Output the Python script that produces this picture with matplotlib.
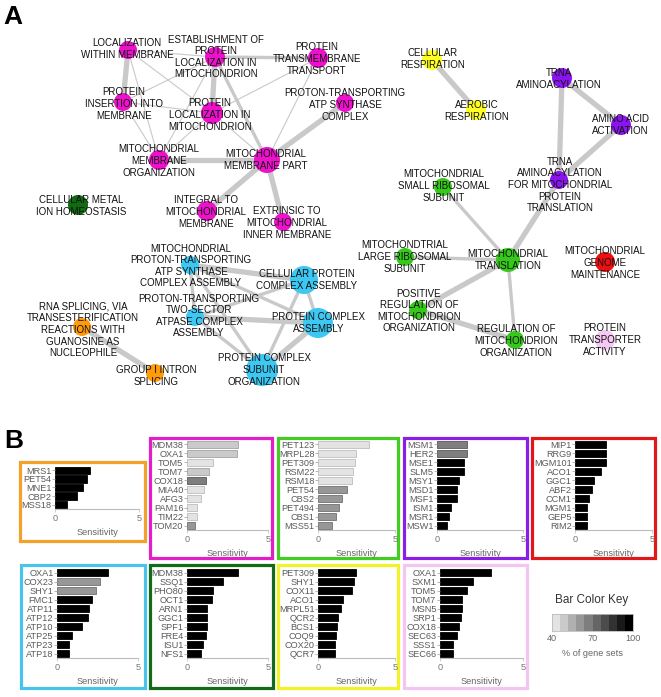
import matplotlib
matplotlib.use("Agg")
import matplotlib.pyplot as plt
from matplotlib.patches import Rectangle
import numpy as np

plt.rcParams["font.family"] = ["Liberation Sans", "DejaVu Sans"]

W, H = 661, 697

# ---------------- panel A: enrichment map ----------------
node_labels = {
    "loc_memb": "LOCALIZATION\nWITHIN MEMBRANE",
    "estab": "ESTABLISHMENT OF\nPROTEIN\nLOCALIZATION IN\nMITOCHONDRION",
    "tm_transport": "PROTEIN\nTRANSMEMBRANE\nTRANSPORT",
    "insertion": "PROTEIN\nINSERTION INTO\nMEMBRANE",
    "prot_loc": "PROTEIN\nLOCALIZATION IN\nMITOCHONDRION",
    "atp_complex": "PROTON-TRANSPORTING\nATP SYNTHASE\nCOMPLEX",
    "mem_org": "MITOCHONDRIAL\nMEMBRANE\nORGANIZATION",
    "mem_part": "MITOCHONDRIAL\nMEMBRANE PART",
    "integral": "INTEGRAL TO\nMITOCHONDRIAL\nMEMBRANE",
    "extrinsic": "EXTRINSIC TO\nMITOCHONDRIAL\nINNER MEMBRANE",
    "metal": "CELLULAR METAL\nION HOMEOSTASIS",
    "atp_assembly": "MITOCHONDRIAL\nPROTON-TRANSPORTING\nATP SYNTHASE\nCOMPLEX ASSEMBLY",
    "cell_prot": "CELLULAR PROTEIN\nCOMPLEX ASSEMBLY",
    "two_sector": "PROTON-TRANSPORTING\nTWO-SECTOR\nATPASE COMPLEX\nASSEMBLY",
    "pca": "PROTEIN COMPLEX\nASSEMBLY",
    "subunit": "PROTEIN COMPLEX\nSUBUNIT\nORGANIZATION",
    "rna_splicing": "RNA SPLICING, VIA\nTRANSESTERIFICATION\nREACTIONS WITH\nGUANOSINE AS\nNUCLEOPHILE",
    "group1": "GROUP I INTRON\nSPLICING",
    "cell_resp": "CELLULAR\nRESPIRATION",
    "aerobic": "AEROBIC\nRESPIRATION",
    "trna": "TRNA\nAMINOACYLATION",
    "aa_act": "AMINO ACID\nACTIVATION",
    "trna_mito": "TRNA\nAMINOACYLATION\nFOR MITOCHONDRIAL\nPROTEIN\nTRANSLATION",
    "small_ribo": "MITOCHONDRIAL\nSMALL RIBOSOMAL\nSUBUNIT",
    "large_ribo": "MITOCHONDTRIAL\nLARGE RIBOSOMAL\nSUBUNIT",
    "mito_trans": "MITOCHONDRIAL\nTRANSLATION",
    "pos_reg": "POSITIVE\nREGULATION OF\nMITOCHONDRION\nORGANIZATION",
    "reg": "REGULATION OF\nMITOCHONDRION\nORGANIZATION",
    "genome": "MITOCHONDRIAL\nGENOME\nMAINTENANCE",
    "transporter": "PROTEIN\nTRANSPORTER\nACTIVITY",
}

node_group = {
    "loc_memb": "magenta", "estab": "magenta", "tm_transport": "magenta",
    "insertion": "magenta", "prot_loc": "magenta", "atp_complex": "magenta",
    "mem_org": "magenta", "mem_part": "magenta", "integral": "magenta",
    "extrinsic": "magenta", "metal": "darkgreen", "atp_assembly": "cyan",
    "cell_prot": "cyan", "two_sector": "cyan", "pca": "cyan", "subunit": "cyan",
    "rna_splicing": "orange", "group1": "orange", "cell_resp": "yellow",
    "aerobic": "yellow", "trna": "purple", "aa_act": "purple",
    "trna_mito": "purple", "small_ribo": "green", "large_ribo": "green",
    "mito_trans": "green", "pos_reg": "green", "reg": "green",
    "genome": "red", "transporter": "pink",
}

# (node, node, overlap strength 1..3)
edges = [
    ("loc_memb", "estab", 1), ("loc_memb", "insertion", 3),
    ("loc_memb", "mem_org", 1), ("loc_memb", "prot_loc", 1),
    ("estab", "tm_transport", 2), ("estab", "prot_loc", 3),
    ("estab", "mem_part", 2), ("estab", "mem_org", 1),
    ("estab", "insertion", 1), ("insertion", "prot_loc", 1),
    ("insertion", "mem_org", 1), ("prot_loc", "mem_org", 1),
    ("prot_loc", "mem_part", 1), ("prot_loc", "tm_transport", 1),
    ("tm_transport", "mem_part", 1), ("mem_org", "mem_part", 3),
    ("mem_part", "atp_complex", 3), ("mem_part", "integral", 3),
    ("mem_part", "extrinsic", 3),
    ("cell_resp", "aerobic", 3),
    ("trna", "aa_act", 3), ("trna", "trna_mito", 3), ("aa_act", "trna_mito", 3),
    ("trna_mito", "mito_trans", 3), ("small_ribo", "mito_trans", 2),
    ("large_ribo", "mito_trans", 2), ("mito_trans", "pos_reg", 3),
    ("mito_trans", "reg", 2), ("pos_reg", "reg", 3),
    ("rna_splicing", "group1", 3),
    ("atp_assembly", "cell_prot", 3), ("atp_assembly", "two_sector", 2),
    ("atp_assembly", "pca", 2), ("atp_assembly", "subunit", 2),
    ("two_sector", "cell_prot", 2), ("two_sector", "pca", 3),
    ("two_sector", "subunit", 2), ("cell_prot", "pca", 2),
    ("cell_prot", "subunit", 2), ("pca", "subunit", 3),
]

# layout in pixels: node x, y, radius, label centre x, y
layout = {
    "loc_memb": (128, 50, 9, 127, 49),
    "estab": (215, 57, 10, 216, 57),
    "tm_transport": (318, 58, 10, 317, 59),
    "insertion": (123, 102, 9, 124, 104),
    "prot_loc": (212, 113, 11, 210, 115),
    "atp_complex": (345, 103, 9, 345, 105),
    "mem_org": (159, 160, 10, 159, 161),
    "mem_part": (267, 160, 13, 266, 160),
    "integral": (207, 211, 10, 206, 212),
    "extrinsic": (283, 222, 9, 287, 223),
    "metal": (78, 205, 10, 81, 206),
    "atp_assembly": (190, 265, 9, 191, 266),
    "cell_prot": (304, 280, 14, 307, 280),
    "two_sector": (195, 317, 9, 199, 316),
    "pca": (318, 323, 15, 319, 323),
    "subunit": (262, 370, 16, 264, 370),
    "rna_splicing": (82, 327, 9, 83, 330),
    "group1": (155, 373, 9, 156, 376),
    "cell_resp": (432, 60, 10, 433, 59),
    "aerobic": (476, 110, 10, 477, 111),
    "trna": (562, 78, 10, 559, 79),
    "aa_act": (621, 125, 10, 620, 125),
    "trna_mito": (559, 180, 9, 560, 185),
    "small_ribo": (443, 187, 9, 444, 186),
    "large_ribo": (405, 257, 9, 405, 257),
    "mito_trans": (508, 260, 12, 508, 260),
    "pos_reg": (418, 310, 9, 419, 311),
    "reg": (515, 340, 9, 516, 341),
    "genome": (605, 262, 10, 605, 263),
    "transporter": (605, 340, 10, 605, 340),
}

group_colors = {
    "magenta": "#ee11cc", "darkgreen": "#0f6b12", "cyan": "#3cc8f2",
    "orange": "#ff9a0a", "yellow": "#ffff22", "purple": "#8a14ee",
    "green": "#36c81a", "red": "#ee1010", "pink": "#f6c8f4",
}
edge_widths = {1: 0.8, 2: 2.4, 3: 3.8}

# ---------------- panel B: sensitivity bars ----------------
orange_genes = ["MRS1", "PET54", "MNE1", "CBP2", "MSS18"]
orange_sens = [2.08, 1.88, 1.68, 1.32, 0.71]
orange_pct = [100, 100, 100, 100, 100]

magenta_genes = ["MDM38", "OXA1", "TOM5", "TOM7", "COX18", "MIA40", "AFG3", "PAM16", "TIM22", "TOM20"]
magenta_sens = [3.16, 3.06, 1.63, 1.33, 1.16, 1.02, 0.86, 0.61, 0.61, 0.51]
magenta_pct = [49, 49, 43, 49, 66, 43, 43, 43, 43, 60]

green_genes = ["PET123", "MRPL28", "PET309", "RSM22", "RSM18", "PET54", "CBS2", "PET494", "CBS1", "MSS51"]
green_sens = [3.32, 2.48, 2.41, 2.26, 2.22, 1.90, 1.57, 1.36, 1.16, 0.93]
green_pct = [43, 43, 43, 43, 43, 62, 62, 62, 62, 62]

purple_genes = ["MSM1", "HER2", "MSE1", "SLM5", "MSY1", "MSD1", "MSF1", "ISM1", "MSR1", "MSW1"]
purple_sens = [1.76, 1.72, 1.58, 1.58, 1.27, 1.15, 1.15, 0.80, 0.70, 0.57]
purple_pct = [66, 66, 100, 100, 100, 100, 100, 100, 100, 100]

red_genes = ["MIP1", "RRG9", "MGM101", "ACO1", "GGC1", "ABF2", "CCM1", "MGM1", "GEP5", "RIM2"]
red_sens = [2.02, 2.02, 2.02, 1.67, 1.26, 1.13, 0.91, 0.80, 0.80, 0.80]
red_pct = [100] * 10

cyan_genes = ["OXA1", "COX23", "SHY1", "FMC1", "ATP11", "ATP12", "ATP10", "ATP25", "ATP23", "ATP18"]
cyan_sens = [3.12, 2.65, 2.41, 2.14, 2.00, 1.94, 1.53, 0.92, 0.71, 0.71]
cyan_pct = [100, 60, 60, 100, 100, 100, 100, 100, 100, 100]

dkgreen_genes = ["MDM38", "SSQ1", "PHO80", "OCT1", "ARN1", "GGC1", "SPF1", "FRE4", "ISU1", "NFS1"]
dkgreen_sens = [3.17, 2.22, 1.60, 1.54, 1.23, 1.23, 1.23, 1.19, 0.99, 0.84]
dkgreen_pct = [100] * 10

yellow_genes = ["PET309", "SHY1", "COX11", "ACO1", "MRPL51", "QCR2", "BCS1", "COQ9", "COX20", "QCR7"]
yellow_sens = [2.44, 2.37, 2.18, 1.64, 1.51, 1.27, 1.21, 1.16, 1.10, 1.10]
yellow_pct = [100] * 10

pink_genes = ["OXA1", "SXM1", "TOM5", "TOM7", "MSN5", "SRP1", "COX18", "SEC63", "SSS1", "SEC66"]
pink_sens = [3.08, 2.00, 1.64, 1.30, 1.30, 1.24, 1.14, 1.04, 0.80, 0.80]
pink_pct = [100] * 10

key_bins = [40, 46, 52, 58, 64, 70, 76, 82, 88, 94, 100]
key_ticks = [40, 70, 100]
key_grays = np.linspace(0.89, 0.0, 10)


def pct_gray(p):
    i = min(int((p - 40) // 6), 9)
    return str(round(key_grays[i], 3))


fig = plt.figure(figsize=(W / 100, H / 100), dpi=100)
base = fig.add_axes([0, 0, 1, 1])
base.set_xlim(0, W)
base.set_ylim(H, 0)
base.axis("off")

for a, b, s in edges:
    xa, ya = layout[a][:2]
    xb, yb = layout[b][:2]
    base.plot([xa, xb], [ya, yb], color="#c9c9c9", lw=edge_widths[s],
              solid_capstyle="butt", zorder=1)

for name, (x, y, r, lx, ly) in layout.items():
    base.scatter([x], [y], s=(2 * r * 0.72) ** 2, color=group_colors[node_group[name]],
                 edgecolors="none", zorder=2)
for name, (x, y, r, lx, ly) in layout.items():
    base.text(lx, ly, node_labels[name], ha="center", va="center", fontsize=7,
              color="#111111", zorder=3)

base.text(3, 24, "A", fontsize=19, fontweight="bold", ha="left", va="baseline")
base.text(4, 448, "B", fontsize=19, fontweight="bold", ha="left", va="baseline")


def px_axes(x0, y0, x1, y1):
    return fig.add_axes([x0 / W, 1 - y1 / H, (x1 - x0) / W, (y1 - y0) / H])


# box (x0, y0, x1, y1), axis (x at 0, x at 5, top, spine)
panels = [
    (orange_genes, orange_sens, orange_pct, "#f2a12a", (20, 462, 145, 541), (55, 139, 466, 509)),
    (magenta_genes, magenta_sens, magenta_pct, "#e21ec6", (150, 438, 272, 558), (187, 268, 440, 530)),
    (green_genes, green_sens, green_pct, "#44cc22", (278, 438, 398, 558), (318, 395, 440, 530)),
    (purple_genes, purple_sens, purple_pct, "#8b1ee6", (404, 438, 527, 558), (437, 523, 440, 530)),
    (red_genes, red_sens, red_pct, "#e01818", (532, 438, 655, 558), (575, 652, 440, 530)),
    (cyan_genes, cyan_sens, cyan_pct, "#48c4ec", (21, 565, 145, 688), (57, 138, 568, 658)),
    (dkgreen_genes, dkgreen_sens, dkgreen_pct, "#136b1a", (150, 565, 273, 688), (187, 268, 568, 658)),
    (yellow_genes, yellow_sens, yellow_pct, "#f2f22a", (278, 565, 398, 688), (318, 395, 568, 658)),
    (pink_genes, pink_sens, pink_pct, "#f4c4f2", (404, 565, 527, 688), (440, 523, 568, 658)),
]

for genes, sens, pct, col, box, axpos in panels:
    bx0, by0, bx1, by1 = box
    base.add_patch(Rectangle((bx0, by0), bx1 - bx0, by1 - by0, fill=False,
                             ec=col, lw=2.3, zorder=4))
    ax = px_axes(axpos[0], axpos[2], axpos[1], axpos[3])
    n = len(genes)
    y = np.arange(n)
    faces = [pct_gray(p) for p in pct]
    edgec = [str(max(float(f) - 0.15, 0)) for f in faces]
    ax.barh(y, sens, height=0.88, color=faces, edgecolor=edgec, linewidth=0.6)
    ax.set_xlim(0, 5)
    ax.set_ylim(n - 0.5, -0.5)
    ax.set_yticks(y)
    ax.set_yticklabels(genes, fontsize=6.6, color="#5a5a5a")
    ax.set_xticks([0, 5])
    ax.set_xticklabels(["0", "5"], fontsize=6.6, color="#777777")
    ax.tick_params(axis="y", length=2, width=0.5, color="#999999", pad=0.5)
    ax.tick_params(axis="x", length=2, width=0.5, color="#bbbbbb", pad=1.5)
    for side in ("top", "right", "left"):
        ax.spines[side].set_visible(False)
    ax.spines["bottom"].set_color("#bbbbbb")
    ax.spines["bottom"].set_linewidth(0.8)
    ax.set_xlabel("Sensitivity", fontsize=6.6, color="#666666", labelpad=4)
    ax.patch.set_alpha(0)

# bar colour key
base.text(592, 600, "Bar Color Key", ha="center", va="center", fontsize=8.5, color="#333333")
kax = px_axes(552, 614, 633, 631)
for i in range(10):
    kax.axvspan(key_bins[i], key_bins[i + 1], color=str(round(key_grays[i], 3)), lw=0)
kax.set_xlim(40, 100)
kax.set_ylim(0, 1)
kax.set_yticks([])
kax.set_xticks(key_ticks)
kax.set_xticklabels([str(t) for t in key_ticks], fontsize=6.6, color="#666666")
kax.tick_params(axis="x", length=0, pad=2)
for side in kax.spines:
    kax.spines[side].set_color("#bbbbbb")
    kax.spines[side].set_linewidth(0.6)
base.text(592, 654, "% of gene sets", ha="center", va="center", fontsize=6.6, color="#666666")

fig.savefig("out.png", dpi=100)
